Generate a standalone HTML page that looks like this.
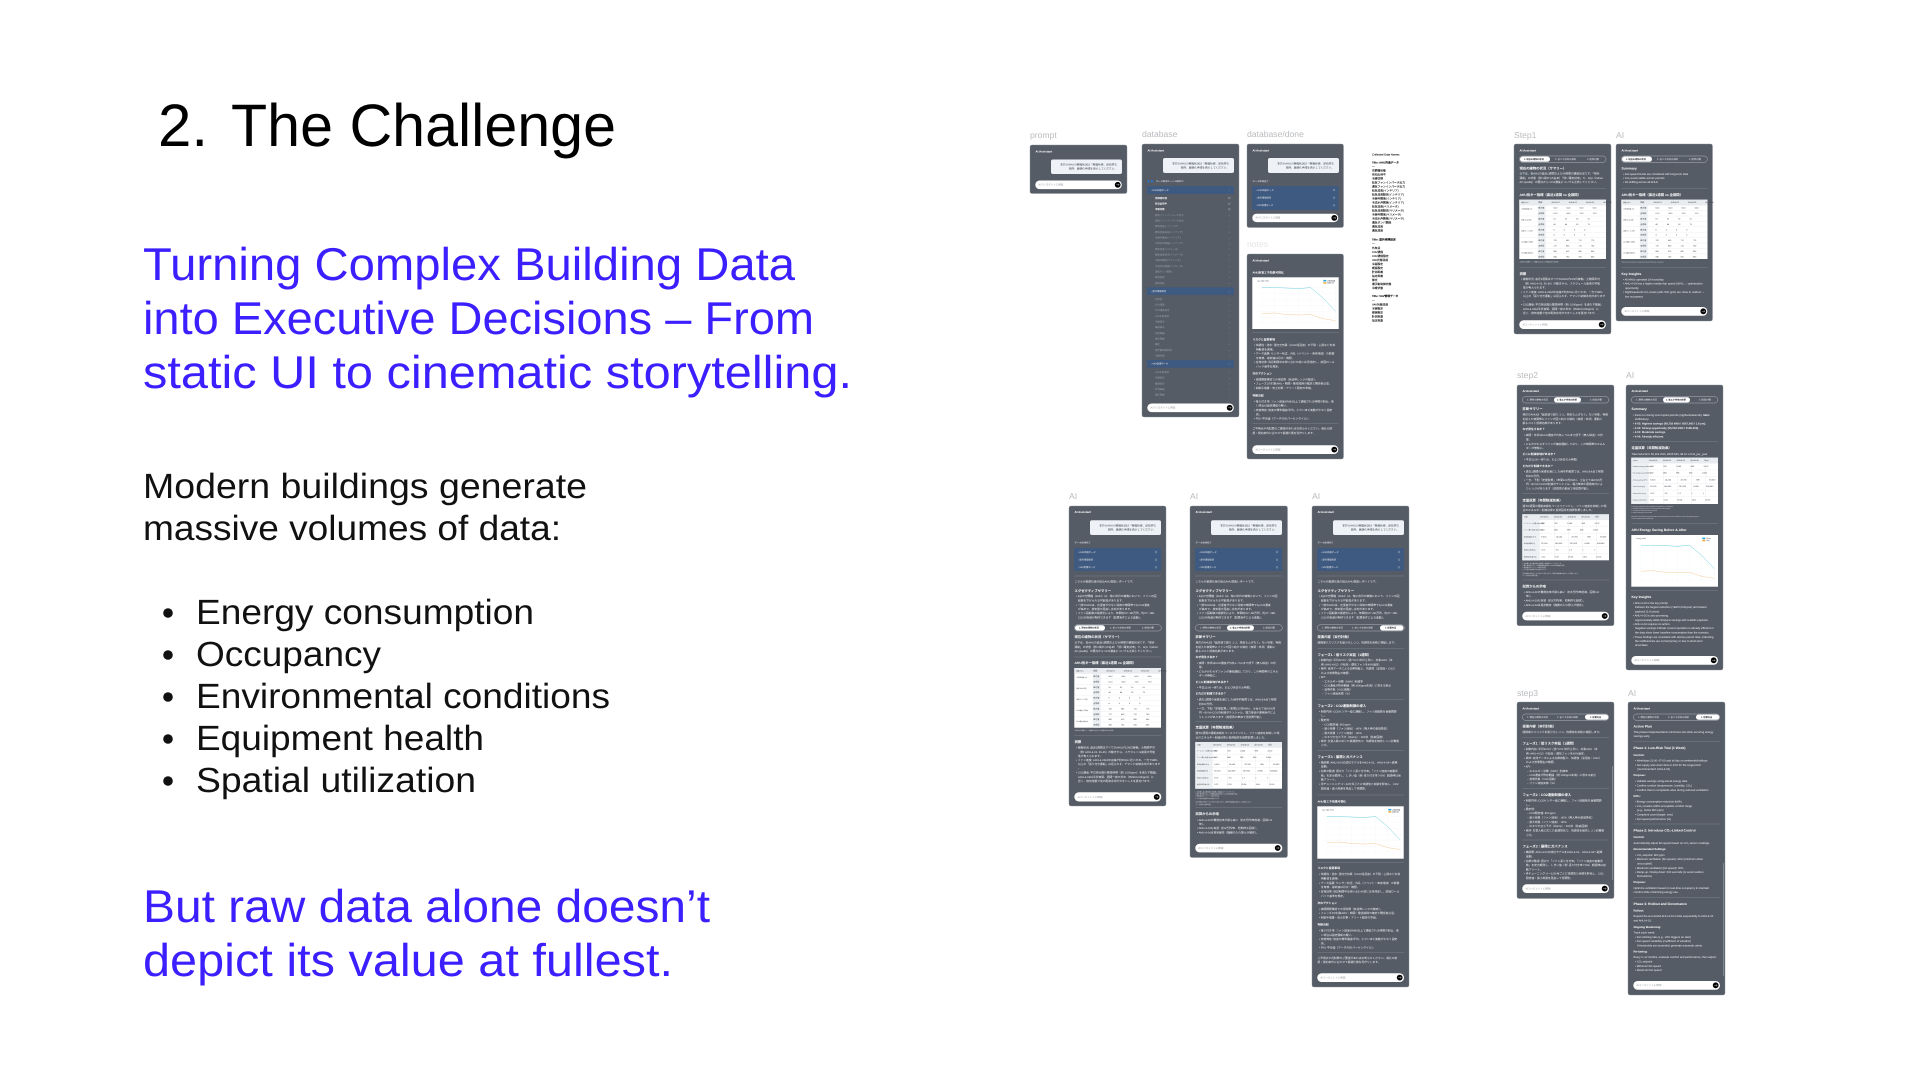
<!DOCTYPE html>
<html lang="en"><head><meta charset="utf-8"><title>2. The Challenge</title>
<style>
html,body{margin:0;padding:0;background:#fff;width:1920px;height:1080px;overflow:hidden}
svg{display:block}
text{font-family:"Liberation Sans","Noto Sans CJK JP",sans-serif;text-rendering:geometricPrecision}
.H{font-size:60px;fill:#000}.S{font-size:46px;fill:#3c1fff}.B{font-size:35px;fill:#111}
.L{font-size:8.6px;fill:#b8bbbf}
.p text{font-size:2.75px;fill:#eceef1}
.p .h{font-size:2.9px;font-weight:700;fill:#fff}
.p .b{font-size:2.8px;font-weight:700;fill:#fff}
.p .T{font-size:3.35px;font-weight:700;fill:#fff}
.p .d{fill:#3f4650;text-anchor:end;font-size:2.7px}
.p .g{fill:#8a8e95;font-size:2.5px}
.p .m{fill:#9aa0a8;font-size:2.4px}
.p .w{fill:#f2f3f5;font-size:2.4px;font-weight:700}
.p .s{font-size:1.5px;fill:#d8dbe0}
.p .a{font-size:2.3px;fill:#e6e8ec}
.p .k{font-size:2.2px;fill:#1f242c;font-weight:700}
.p .t{font-size:2px;fill:#3a3f47;word-spacing:8.6px}
.p .c{font-size:1.6px;fill:#3f444c}
.c1 text{font-size:2.75px;fill:#000;stroke:#000;stroke-width:.06px}
.c1 .bb{font-weight:700;fill:#000}
</style></head><body>
<svg width="1920" height="1080" viewBox="0 0 1920 1080" xmlns="http://www.w3.org/2000/svg">
<rect width="1920" height="1080" fill="#fff"/>
<text class="H" x="158" y="146">2.</text>
<text class="H" x="231" y="146" textLength="385" lengthAdjust="spacingAndGlyphs">The Challenge</text>
<text class="S" x="143" y="280" textLength="652" lengthAdjust="spacingAndGlyphs">Turning Complex Building Data</text>
<text class="S" x="143" y="334" textLength="671" lengthAdjust="spacingAndGlyphs">into Executive Decisions – From</text>
<text class="S" x="143" y="388" textLength="709" lengthAdjust="spacingAndGlyphs">static UI to cinematic storytelling.</text>
<text class="B" x="143" y="498" textLength="444" lengthAdjust="spacingAndGlyphs">Modern buildings generate</text>
<text class="B" x="143" y="540" textLength="418" lengthAdjust="spacingAndGlyphs">massive volumes of data:</text>
<g fill="#111"><circle cx="168" cy="613" r="4.8"/><circle cx="168" cy="655" r="4.8"/><circle cx="168" cy="697" r="4.8"/><circle cx="168" cy="739" r="4.8"/><circle cx="168" cy="781" r="4.8"/></g>
<text class="B" x="196" y="624" textLength="338" lengthAdjust="spacingAndGlyphs">Energy consumption</text>
<text class="B" x="196" y="666" textLength="185" lengthAdjust="spacingAndGlyphs">Occupancy</text>
<text class="B" x="196" y="708" textLength="414" lengthAdjust="spacingAndGlyphs">Environmental conditions</text>
<text class="B" x="196" y="750" textLength="288" lengthAdjust="spacingAndGlyphs">Equipment health</text>
<text class="B" x="196" y="792" textLength="280" lengthAdjust="spacingAndGlyphs">Spatial utilization</text>
<text class="S" x="143" y="922" textLength="567" lengthAdjust="spacingAndGlyphs">But raw data alone doesn’t</text>
<text class="S" x="143" y="976" textLength="530" lengthAdjust="spacingAndGlyphs">depict its value at fullest.</text>

<text class="L" x="1030" y="138">prompt</text><text class="L" x="1142" y="137">database</text><text class="L" x="1247" y="137">database/done</text><text class="L" x="1247" y="247" style="fill:#e4e5e7">notes</text>
<text class="L" x="1514" y="138">Step1</text><text class="L" x="1616" y="138">AI</text><text class="L" x="1069" y="499">AI</text><text class="L" x="1190" y="499">AI</text><text class="L" x="1312" y="499">AI</text><text class="L" x="1517" y="378">step2</text><text class="L" x="1626" y="378">AI</text><text class="L" x="1517" y="696">step3</text><text class="L" x="1628" y="696">AI</text>

<!-- prompt -->
<g class="p" transform="translate(1030,145)"><rect width="97" height="48.5" rx="2" fill="#565c66" stroke="#8a8f97" stroke-width=".4"/>
<text class="h" x="5.5" y="7.5">AI Assistant</text>
<rect x="21" y="14.5" width="71" height="14.5" rx="2" fill="#eef1f5"/><text class="d" x="87" y="20.5">本日のAHUの稼働状況は「稼働状態、逆効率な</text><text class="d" x="87" y="24.5">箇所、最適化手順を表示してください。</text>
<rect x="5.3" y="35.5" width="86.5" height="8.6" rx="4.3" fill="#fff"/><text class="g" x="8.5" y="40.7">AIアシスタントに相談</text><circle cx="87.7" cy="39.8" r="2.9" fill="#000"/><path d="M86.2 39.8h3M88.2 38.8l1 1-1 1" stroke="#fff" stroke-width=".35" fill="none"/></g>

<!-- database -->
<g class="p" transform="translate(1142,144)"><rect width="97" height="273" rx="2" fill="#565c66" stroke="#8a8f97" stroke-width=".4"/>
<text class="h" x="5.5" y="7.5">AI Assistant</text>
<rect x="21" y="14" width="71" height="15" rx="2" fill="#eef1f5"/><text class="d" x="87" y="20.5">本日のAHUの稼働状況は「稼働状態、逆効率な</text><text class="d" x="87" y="24.5">箇所、最適化手順を表示してください。</text>
<circle cx="6.5" cy="37.3" r="1" fill="#1e7cf0"/><circle cx="10" cy="37.3" r="1" fill="#1e7cf0"/><text class="a" x="14" y="38">データ取得ルートの解析中</text>
<rect x="5" y="42" width="87" height="8" fill="#3f5a80"/><rect x="5" y="143.3" width="87" height="7.7" fill="#3f5a80"/><rect x="5" y="216" width="87" height="7.7" fill="#3f5a80"/>
<text class="a" x="9" y="46.8">›  AHU共通データ</text><text class="a" x="9" y="148">›  屋外環境設定</text><text class="a" x="9" y="220.7">›  VAV管理データ</text>
<text class="w" x="13" y="54.8">空調機状態</text><text class="w" x="13" y="60.5">有効出荷中</text><text class="w" x="13" y="66.2">冷暖切替</text>
<g class="z"><text class="m" x="13" y="71.8">給気ファンインバータ出力</text><text class="m" x="13" y="77.5">還気ファンインバータ出力</text><text class="m" x="13" y="83.2">給気温度(インテリア)</text><text class="m" x="13" y="88.8">給気温度設定(インテリア)</text><text class="m" x="13" y="94.5">冷房弁開度(インテリア)</text><text class="m" x="13" y="100.2">冷温水弁開度(インテリア)</text><text class="m" x="13" y="105.8">給気温度(ペリメータ)</text><text class="m" x="13" y="111.5">給気温度設定(ペリメータ)</text><text class="m" x="13" y="117.2">冷房弁開度(ペリメータ)</text><text class="m" x="13" y="122.8">冷温水弁開度(ペリメータ)</text><text class="m" x="13" y="128.5">還気ダンパ開度</text><text class="m" x="13" y="134.2">還気温度</text><text class="m" x="13" y="139.8">還気湿度</text>
<text class="m" x="13" y="155.8">外気温</text><text class="m" x="13" y="161.5">CO2濃度</text><text class="m" x="13" y="167.2">CO2濃度設定</text><text class="m" x="13" y="172.8">VAV状態温度</text><text class="m" x="13" y="178.5">冷房設定</text><text class="m" x="13" y="184.2">暖房設定</text><text class="m" x="13" y="189.8">全熱風量</text><text class="m" x="13" y="195.5">指定風量</text><text class="m" x="13" y="201.2">静圧</text><text class="m" x="13" y="206.8">還手動制御状態</text><text class="m" x="13" y="212.5">冷暖状態</text>
<text class="m" x="13" y="229">VAV状態温度</text><text class="m" x="13" y="234.7">冷房設定</text><text class="m" x="13" y="240.3">暖房設定</text><text class="m" x="13" y="246">計測風量</text><text class="m" x="13" y="251.7">指定風量</text></g>
<g fill="none" stroke="#c9ced5" stroke-width=".3"><circle cx="87.3" cy="54" r=".9"/><circle cx="87.3" cy="59.7" r=".9"/><circle cx="87.3" cy="65.3" r=".9"/></g>
<path d="M86.5 46l.8.8.8-.8M86.5 71l.8.8.8-.8M86.5 76.7l.8.8.8-.8M86.5 82.4l.8.8.8-.8M86.5 88l.8.8.8-.8M86.5 93.7l.8.8.8-.8M86.5 99.4l.8.8.8-.8M86.5 105l.8.8.8-.8M86.5 110.7l.8.8.8-.8M86.5 116.4l.8.8.8-.8M86.5 122l.8.8.8-.8M86.5 127.7l.8.8.8-.8M86.5 133.4l.8.8.8-.8M86.5 139l.8.8.8-.8M86.5 147l.8.8.8-.8M86.5 155l.8.8.8-.8M86.5 160.7l.8.8.8-.8M86.5 166.4l.8.8.8-.8M86.5 172l.8.8.8-.8M86.5 177.7l.8.8.8-.8M86.5 183.4l.8.8.8-.8M86.5 189l.8.8.8-.8M86.5 194.7l.8.8.8-.8M86.5 200.4l.8.8.8-.8M86.5 206l.8.8.8-.8M86.5 211.7l.8.8.8-.8M86.5 219.7l.8.8.8-.8M86.5 228l.8.8.8-.8M86.5 233.7l.8.8.8-.8M86.5 239.4l.8.8.8-.8M86.5 245l.8.8.8-.8M86.5 250.7l.8.8.8-.8" fill="none" stroke="#8a909a" stroke-width=".3"/>
<rect x="5.3" y="259.5" width="86.5" height="8.6" rx="4.3" fill="#fff"/><text class="g" x="8.5" y="264.7">AIアシスタントに相談</text><circle cx="87.7" cy="263.8" r="2.9" fill="#000"/><path d="M86.2 263.8h3M88.2 262.8l1 1-1 1" stroke="#fff" stroke-width=".35" fill="none"/></g>

<!-- database/done -->
<g class="p" transform="translate(1247,144)"><rect width="96.5" height="83.5" rx="2" fill="#565c66" stroke="#8a8f97" stroke-width=".4"/>
<text class="h" x="5.5" y="7.5">AI Assistant</text>
<rect x="21" y="14" width="71" height="15" rx="2" fill="#eef1f5"/><text class="d" x="87" y="20.5">本日のAHUの稼働状況は「稼働状態、逆効率な</text><text class="d" x="87" y="24.5">箇所、最適化手順を表示してください。</text>
<text class="a" x="5.5" y="38">データ取得完了</text>
<rect x="5" y="42" width="86.7" height="24" fill="#3f5a80"/><text class="a" x="9" y="46.8">›  AHU共通データ</text><text class="a" x="9" y="54.5">›  屋外環境設定</text><text class="a" x="9" y="62.1">›  VAV管理データ</text>
<g fill="none" stroke="#c9ced5" stroke-width=".3"><circle cx="87" cy="46" r=".9"/><circle cx="87" cy="53.7" r=".9"/><circle cx="87" cy="61.3" r=".9"/></g>
<rect x="5.3" y="69.7" width="86" height="8.4" rx="4.2" fill="#fff"/><text class="g" x="8.5" y="74.7">AIアシスタントに相談</text><circle cx="87.3" cy="73.9" r="2.9" fill="#000"/><path d="M85.8 73.9h3M87.8 72.9l1 1-1 1" stroke="#fff" stroke-width=".35" fill="none"/></g>

<!-- notes -->
<g class="p" transform="translate(1247,254)"><rect width="96.5" height="205" rx="2" fill="#565c66" stroke="#8a8f97" stroke-width=".4"/>
<text class="h" x="5.5" y="7.5">AI Assistant</text>
<text class="b" x="5.5" y="19.3">AHU別省エネ効果可視化</text>
<g transform="translate(5.3,23.3)"><rect width="86.4" height="51.7" fill="#fff"/><path d="M9.7 8V46M22 8V46M34 8V46M46.3 8V46M58.3 8V46M70.3 8V46M83 8V46M6 10.3H85M6 16H85M6 22H85M6 28H85M6 34H85M6 40H85M6 45H85" stroke="#eceef1" stroke-width=".2"/><polyline points="9.7,10.3 22,10.3 34,10.7 46.3,11.3 58.3,10.3 70.3,20.3 83,33.7" fill="none" stroke="#6fd0df" stroke-width=".5"/><polyline points="9.7,36.3 22,35.7 34,37.3 46.3,37.7 58.3,37.3 70.3,41.3 83,43.3" fill="none" stroke="#f5cd9a" stroke-width=".5"/><rect x="71" y="2.6" width="3" height="1.6" fill="#2ba8e0"/><rect x="71" y="4.8" width="3" height="1.6" fill="#f3b040"/><text class="c" x="5" y="4">省エネ量（kWh）</text><text class="c" x="75" y="4">実績消費量</text><text class="c" x="75" y="6.2">最適化後</text></g>
<path d="M5.3 78.7H91.7M5.3 169.7H91.7" stroke="#858b94" stroke-width=".4"/>
<text class="b" x="5.5" y="86.6">リスクと留意事項</text>
<text x="7" y="92">• 快適性・送水: 室内空気質（CO2/温湿度）の下限・上限などを常</text><text x="9" y="96.3">時監視を適用。</text><text x="7" y="100.7">• データ品質: センサー校正、外乱（イベント・来客増加）の影響</text><text x="9" y="105">を考慮。最新値は月次・確認。</text><text x="7" y="109">• 省増効果: 周辺期間中は想い合わせ前には再測定し、前回ロール</text><text x="9" y="113.3">バック基準を規定。</text>
<text class="b" x="5.5" y="120.6">次のアクション</text>
<text x="7" y="126.3">• 夜間調節事前での再試算（気温帯レンジの確定）。</text><text x="7" y="130.7">• フェーズ1の対象AHU・期間・監視項目の確定と関係者合意。</text><text x="7" y="135">• 制御手順書・安全対策・アラート設定の準備。</text>
<text class="b" x="5.5" y="142.6">判断注記</text>
<text x="7" y="148.3">• 推り付き率: ファン速度がMIN以上で運転される時間の割合。高</text><text x="9" y="152.7">い場合は固定運転の疑い。</text><text x="7" y="157">• 定格時差: 速度の標準偏差/平均。小さいほど変動が少なく固定</text><text x="9" y="161.3">的。</text><text x="7" y="165.3">• P50: 中央値（データの50パーセンタイル）。</text>
<text x="5.5" y="175.7">ご不明点や再試算のご要望があればお知らせください。貴社の前</text><text x="5.5" y="180">提・契約条件に合わせて最適化案を再作りします。</text>
<rect x="5.3" y="191.3" width="86" height="8.7" rx="4.3" fill="#fff"/><text class="g" x="8.5" y="196.5">AIエージェントに相談</text><circle cx="87.3" cy="195.6" r="2.9" fill="#000"/><path d="M85.8 195.6h3M87.8 194.6l1 1-1 1" stroke="#fff" stroke-width=".35" fill="none"/></g>

<!-- Collected data names -->
<g class="c1" transform="translate(1372,0)">
<text x="0" y="155.5">Collected Data Names</text>
<text class="bb" x="0" y="163.5">Title: AHU共通データ</text><text x="0" y="167.5">—</text>
<text x="0" y="171.5">空調機状態</text><text x="0" y="175.5">有効出荷中</text><text x="0" y="179.5">冷暖切替</text><text x="0" y="183.5">給気ファンインバータ出力</text><text x="0" y="187.5">還気ファンインバータ出力</text><text x="0" y="191.5">給気温度(インテリア)</text><text x="0" y="195.5">給気温度設定(インテリア)</text><text x="0" y="199.5">冷房弁開度(インテリア)</text><text x="0" y="203.5">冷温水弁開度(インテリア)</text><text x="0" y="207.5">給気温度(ペリメータ)</text><text x="0" y="211.5">給気温度設定(ペリメータ)</text><text x="0" y="215.5">冷房弁開度(ペリメータ)</text><text x="0" y="219.5">冷温水弁開度(ペリメータ)</text><text x="0" y="223.5">還気ダンパ開度</text><text x="0" y="227.5">還気温度</text><text x="0" y="231.5">還気湿度</text>
<text class="bb" x="0" y="240.5">Title: 屋外環境設定</text><text x="0" y="244.5">—</text>
<text x="0" y="248.8">外気温</text><text x="0" y="252.8">CO2濃度</text><text x="0" y="256.8">CO2濃度設定</text><text x="0" y="260.8">VAV状態温度</text><text x="0" y="264.8">冷房設定</text><text x="0" y="268.8">暖房設定</text><text x="0" y="272.8">計測風量</text><text x="0" y="276.8">指定風量</text><text x="0" y="280.8">静圧</text><text x="0" y="284.8">還手動制御状態</text><text x="0" y="288.8">冷暖状態</text>
<text class="bb" x="0" y="297">Title: VAV管理データ</text><text x="0" y="301">—</text>
<text x="0" y="305.5">VAV状態温度</text><text x="0" y="309.5">冷房設定</text><text x="0" y="313.5">暖房設定</text><text x="0" y="317.5">計測風量</text><text x="0" y="321.5">指定風量</text>
</g>

<!-- Step1 -->
<g class="p" transform="translate(1514,144)"><rect width="97" height="190" rx="2" fill="#565c66" stroke="#8a8f97" stroke-width=".4"/>
<text class="h" x="5.5" y="7.5">AI Assistant</text>
<rect x="5.3" y="12" width="86.7" height="6.3" rx="3.1" fill="none" stroke="#c8ccd2" stroke-width=".4"/><rect x="6" y="12.5" width="30" height="5.3" rx="2.6" fill="#fff"/><text class="k" x="10" y="15.9">1. 現在の建物の状況</text><text class="a" x="41" y="15.9">2. 省エネ余地の診断</text><text class="a" x="73" y="15.9">3. 提案内容</text>
<text class="T" x="5.5" y="25.4">現在の建物の状況（サマリー）</text>
<text x="5.5" y="30.5">以下は、各AHUの直近1週間および全期間の運転状況です。「現状</text><text x="5.5" y="34.8">運転」の状態（例:1頃から5台あ）「低い電気効率」で、AQI（Indoor</text><text x="5.5" y="39.1">Air Quality）の要点から CO2濃度についても注目してください。</text>
<path d="M5.3 44.3H92M5.3 123.3H92" stroke="#858b94" stroke-width=".4"/>
<text class="T" x="5.5" y="51.8">AHU別キー指標（直近1週間 vs 全期間）</text>
<g transform="translate(5.3,55.7)"><rect width="86.7" height="59.3" fill="#fff"/><rect width="86.7" height="5.5" fill="#e8ebef"/><rect x="18.5" y="5.5" width="8" height="53.8" fill="#eef1f4"/><path d="M0 5.5H86.7M18.5 10.9H86.7M0 16.3H86.7M18.5 21.7H86.7M0 27.1H86.7M18.5 32.5H86.7M0 37.9H86.7M18.5 43.3H86.7M0 48.7H86.7M18.5 54.1H86.7" stroke="#dcdfe3" stroke-width=".25"/><text class="c" x="2" y="3.4">機器 AHU</text><text class="t" x="19" y="3.4">期間 AHU4-01 AHU4-02 AHU4-03 AHU4-04</text><text class="c" x="2" y="10">平均回転数 (%)</text><text class="c" x="2" y="21">吸気 CO2平均</text><text class="c" x="2" y="32">吸気ファン平均</text><text class="c" x="2" y="43">CO2濃度 平均値</text><text class="c" x="2" y="54">CO2濃度 最大値</text><text class="t" x="19" y="9">直近値 64.0 64.0 64.0 64.0</text><text class="t" x="19" y="14.4">全期間 61.0 64.0 74.0 70.0</text><text class="t" x="19" y="19.8">直近値 51 51 51 51</text><text class="t" x="19" y="25.2">全期間 40 44 62 75</text><text class="t" x="19" y="30.6">直近値 6 6 6 6</text><text class="t" x="19" y="36">全期間 4 5 5 5</text><text class="t" x="19" y="41.4">直近値 752 650 712 775</text><text class="t" x="19" y="46.8">全期間 737 660 712 790</text><text class="t" x="19" y="52.2">直近値 880 810 880 850</text><text class="t" x="19" y="57.6">全期間 840 780 910 860</text></g>
<text class="s" x="5.5" y="118.5">※直近の1週間 ファン速度の固定および運転の区分を確認</text>
<text class="T" x="5.5" y="130.8">洞察</text>
<text x="7" y="136.2">• 稼働状況: 直近1週間はすべてのAHUが22h/日稼働。全期間平均</text><text x="9" y="140.3">（例: AHU-4-01, 66.4h）の動きから、スケジュール変更の可能</text><text x="9" y="144.5">性が考えられます。</text><text x="7" y="149.2">• ファン速度: AHU-4-03は中央値が約50%に近いため、一方で98%</text><text x="9" y="153.2">以上の「張り付き運転」は見られず、デマンド制御余地があります</text><text x="9" y="157.5">。</text><text x="7" y="161.5">• CO2濃度: 平日夜は概ね管理目標（例: 1000ppm）を満たす範囲。</text><text x="9" y="165.8">AHU-4-03は平日夜間、週間一部の日中（PM400-600ppm）に</text><text x="9" y="170.2">近く、換気増量や他の配流余地が大きいことを裏付けます。</text>
<rect x="5.3" y="176.3" width="86.5" height="8.7" rx="4.3" fill="#fff"/><text class="g" x="8.5" y="181.5">AIエージェントに相談</text><circle cx="87.7" cy="180.6" r="2.9" fill="#000"/><path d="M86.2 180.6h3M88.2 179.6l1 1-1 1" stroke="#fff" stroke-width=".35" fill="none"/></g>

<!-- AI top right -->
<g class="p" transform="translate(1616,144)"><rect width="96.5" height="177" rx="2" fill="#565c66" stroke="#8a8f97" stroke-width=".4"/>
<text class="h" x="5.5" y="7.5">AI Assistant</text>
<rect x="5.3" y="12" width="86" height="6.3" rx="3.1" fill="none" stroke="#c8ccd2" stroke-width=".4"/><rect x="6" y="12.5" width="30" height="5.3" rx="2.6" fill="#fff"/><text class="k" x="10" y="15.9">1. 現在の建物の状況</text><text class="a" x="41" y="15.9">2. 省エネ余地の診断</text><text class="a" x="73" y="15.9">3. 提案内容</text>
<text class="T" x="5.5" y="25.4">Summary</text>
<text x="7" y="31">• Fan speed trends are consistent with long-term data</text><text x="7" y="35">• CO₂ levels stable across periods</text><text x="7" y="39.2">• No shifting across all AHUs</text>
<path d="M5.3 44.3H91.5M5.3 123.3H91.5" stroke="#858b94" stroke-width=".4"/>
<text class="T" x="5.5" y="51.8">AHU別キー指標（直近1週間 vs 全期間）</text>
<g transform="translate(5.3,55.7)"><rect width="86.2" height="59.3" fill="#fff"/><rect width="86.2" height="5.5" fill="#e8ebef"/><rect x="18.5" y="5.5" width="8" height="53.8" fill="#eef1f4"/><path d="M0 5.5H86.2M18.5 10.9H86.2M0 16.3H86.2M18.5 21.7H86.2M0 27.1H86.2M18.5 32.5H86.2M0 37.9H86.2M18.5 43.3H86.2M0 48.7H86.2M18.5 54.1H86.2" stroke="#dcdfe3" stroke-width=".25"/><text class="c" x="2" y="3.4">機器 AHU</text><text class="t" x="19" y="3.4">期間 AHU4-01 AHU4-02 AHU4-03 AHU4-04</text><text class="c" x="2" y="10">平均回転数 (%)</text><text class="c" x="2" y="21">吸気 CO2平均</text><text class="c" x="2" y="32">吸気ファン平均</text><text class="c" x="2" y="43">CO2濃度 平均値</text><text class="c" x="2" y="54">CO2濃度 最大値</text><text class="t" x="19" y="9">直近値 64.0 64.0 64.0 64.0</text><text class="t" x="19" y="14.4">全期間 61.0 64.0 74.0 70.0</text><text class="t" x="19" y="19.8">直近値 51 51 51 51</text><text class="t" x="19" y="25.2">全期間 40 44 62 75</text><text class="t" x="19" y="30.6">直近値 6 6 6 6</text><text class="t" x="19" y="36">全期間 4 5 5 5</text><text class="t" x="19" y="41.4">直近値 752 650 712 775</text><text class="t" x="19" y="46.8">全期間 737 660 712 790</text><text class="t" x="19" y="52.2">直近値 880 810 880 850</text><text class="t" x="19" y="57.6">全期間 840 780 910 860</text></g>
<text class="s" x="5.5" y="118.5">※Over the last week, fan speed and period data are compared</text>
<text class="T" x="5.5" y="130.8">Key Insights</text>
<text x="7" y="136.5">• All AHUs operated 24 hours/day</text><text x="7" y="140.6">• AHU-4-03 has a higher median fan speed (49%) → optimization</text><text x="9" y="144.8">opportunity</text><text x="7" y="149">• Night/weekend CO₂ levels (400–500 ppm) are close to outdoor →</text><text x="9" y="153.4">low occupancy</text>
<rect x="5.3" y="163" width="86" height="8.7" rx="4.3" fill="#fff"/><text class="g" x="8.5" y="168.2">AIエージェントに相談</text><circle cx="87.3" cy="167.3" r="2.9" fill="#000"/><path d="M85.8 167.3h3M87.8 166.3l1 1-1 1" stroke="#fff" stroke-width=".35" fill="none"/></g>

<!-- AI row col 1 -->
<g class="p" transform="translate(1069,506)"><rect width="97" height="300" rx="2" fill="#565c66" stroke="#8a8f97" stroke-width=".4"/>
<text class="h" x="5.5" y="7.2">AI Assistant</text>
<rect x="21" y="14.3" width="71" height="14.7" rx="2" fill="#eef1f5"/><text class="d" x="87" y="20.5">本日のAHUの稼働状況は「稼働状態、逆効率な</text><text class="d" x="87" y="24.5">箇所、最適化手順を表示してください。</text>
<text class="a" x="5.5" y="37.7">データ取得完了</text>
<rect x="5" y="42" width="87" height="23" fill="#3f5a80"/><text class="a" x="9" y="46.8">›  AHU共通データ</text><text class="a" x="9" y="54.5">›  屋外環境設定</text><text class="a" x="9" y="62.1">›  VAV管理データ</text>
<g fill="none" stroke="#c9ced5" stroke-width=".3"><circle cx="87" cy="46" r=".9"/><circle cx="87" cy="53.7" r=".9"/><circle cx="87" cy="61.3" r=".9"/></g>
<path d="M5.3 70H92M5.3 151H92M5.3 229.7H92" stroke="#858b94" stroke-width=".4"/>
<text x="5.5" y="76.5">こちらが最適化後の総合AHU性能レポートです。</text>
<text class="T" x="5.5" y="85.8">エグゼクティブサマリー</text>
<text x="7" y="91.1">• 4台の空調機（AHU）は、特に休日の稼働において、ファンの回</text><text x="9" y="95.5">転数を下げられる可能性があります。</text><text x="7" y="99.8">• 一部のAHUは、在室者が少ない深夜の時間帯でもCO2濃度</text><text x="9" y="103.9">が高めで、換気量の見直し余地があります。</text><text x="7" y="108.1">• ファン回転数の最適化により、年間約60〜80万円、約37〜38t-</text><text x="9" y="112.5">CO2の削減が期待できます（試算条件による変動）。</text>
<rect x="5.3" y="118.7" width="87" height="6.3" rx="3.1" fill="none" stroke="#c8ccd2" stroke-width=".4"/><rect x="6" y="119.2" width="30" height="5.3" rx="2.6" fill="#fff"/><text class="k" x="10" y="122.6">1. 現在の建物の状況</text><text class="a" x="41" y="122.6">2. 省エネ余地の診断</text><text class="a" x="73" y="122.6">3. 提案内容</text>
<text class="T" x="5.5" y="132">現在の建物の状況（サマリー）</text>
<text x="5.5" y="137.5">以下は、各AHUの直近1週間および全期間の運転状況です。「現状</text><text x="5.5" y="141.8">運転」の状態（例:1頃から5台あ）「低い電気効率」で、AQI（Indoor</text><text x="5.5" y="146.1">Air Quality）の要点から CO2濃度についても注目してください。</text>
<text class="T" x="5.5" y="158">AHU別キー指標（直近1週間 vs 全期間）</text>
<g transform="translate(5.3,162)"><rect width="86.7" height="59.7" fill="#fff"/><rect width="86.7" height="5.5" fill="#e8ebef"/><rect x="18.5" y="5.5" width="8" height="54.2" fill="#eef1f4"/><path d="M0 5.5H86.7M18.5 10.9H86.7M0 16.3H86.7M18.5 21.7H86.7M0 27.1H86.7M18.5 32.5H86.7M0 37.9H86.7M18.5 43.3H86.7M0 48.7H86.7M18.5 54.1H86.7" stroke="#dcdfe3" stroke-width=".25"/><text class="c" x="2" y="3.4">機器 AHU</text><text class="t" x="19" y="3.4">期間 AHU4-01 AHU4-02 AHU4-03 AHU4-04</text><text class="c" x="2" y="10">平均回転数 (%)</text><text class="c" x="2" y="21">吸気 CO2平均</text><text class="c" x="2" y="32">吸気ファン平均</text><text class="c" x="2" y="43">CO2濃度 平均値</text><text class="c" x="2" y="54">CO2濃度 最大値</text><text class="t" x="19" y="9">直近値 64.0 64.0 64.0 64.0</text><text class="t" x="19" y="14.4">全期間 61.0 64.0 74.0 70.0</text><text class="t" x="19" y="19.8">直近値 51 51 51 51</text><text class="t" x="19" y="25.2">全期間 40 44 62 75</text><text class="t" x="19" y="30.6">直近値 6 6 6 6</text><text class="t" x="19" y="36">全期間 4 5 5 5</text><text class="t" x="19" y="41.4">直近値 752 650 712 775</text><text class="t" x="19" y="46.8">全期間 737 660 712 790</text><text class="t" x="19" y="52.2">直近値 880 810 880 850</text><text class="t" x="19" y="57.6">全期間 840 780 910 860</text></g>
<text class="s" x="5.5" y="224.8">※直近の1週間 ファン速度の固定および運転の区分を確認</text>
<text class="T" x="5.5" y="236.8">洞察</text>
<text x="7" y="242.5">• 稼働状況: 直近1週間はすべてのAHUが22h/日稼働。全期間平均</text><text x="9" y="246.8">（例: AHU-4-01, 66.4h）の動きから、スケジュール変更の可能</text><text x="9" y="250.8">性が考えられます。</text><text x="7" y="254.8">• ファン速度: AHU-4-03は中央値が約50%に近いため、一方で98%</text><text x="9" y="259">以上の「張り付き運転」は見られず、デマンド制御余地があります</text><text x="9" y="263">。</text><text x="7" y="267.5">• CO2濃度: 平日夜は概ね管理目標（例: 1000ppm）を満たす範囲。</text><text x="9" y="271.8">AHU-4-03は平日夜間、週間一部の日中（PM400-600ppm）に</text><text x="9" y="276">近く、換気増量や他の配流余地が大きいことを裏付けます。</text>
<rect x="5.3" y="286.3" width="87" height="9.2" rx="4.6" fill="#fff"/><text class="g" x="8.5" y="291.8">AIエージェントに相談</text><circle cx="87.7" cy="290.9" r="2.9" fill="#000"/><path d="M86.2 290.9h3M88.2 289.9l1 1-1 1" stroke="#fff" stroke-width=".35" fill="none"/></g>

<!-- AI row col 2 -->
<g class="p" transform="translate(1190,506)"><rect width="97.5" height="351.5" rx="2" fill="#565c66" stroke="#8a8f97" stroke-width=".4"/>
<text class="h" x="5.5" y="7.2">AI Assistant</text>
<rect x="21" y="14.3" width="71" height="14.7" rx="2" fill="#eef1f5"/><text class="d" x="87" y="20.5">本日のAHUの稼働状況は「稼働状態、逆効率な</text><text class="d" x="87" y="24.5">箇所、最適化手順を表示してください。</text>
<text class="a" x="5.5" y="37.7">データ取得完了</text>
<rect x="5" y="42" width="87" height="23" fill="#3f5a80"/><text class="a" x="9" y="46.8">›  AHU共通データ</text><text class="a" x="9" y="54.5">›  屋外環境設定</text><text class="a" x="9" y="62.1">›  VAV管理データ</text>
<g fill="none" stroke="#c9ced5" stroke-width=".3"><circle cx="87" cy="46" r=".9"/><circle cx="87" cy="53.7" r=".9"/><circle cx="87" cy="61.3" r=".9"/></g>
<path d="M5.3 70H92M5.3 215.7H92M5.3 301.7H92" stroke="#858b94" stroke-width=".4"/>
<text x="5.5" y="76.5">こちらが最適化後の総合AHU性能レポートです。</text>
<text class="T" x="5.5" y="85.8">エグゼクティブサマリー</text>
<text x="7" y="91.1">• 4台の空調機（AHU）は、特に休日の稼働において、ファンの回</text><text x="9" y="95.5">転数を下げられる可能性があります。</text><text x="7" y="99.8">• 一部のAHUは、在室者が少ない深夜の時間帯でもCO2濃度</text><text x="9" y="103.9">が高めで、換気量の見直し余地があります。</text><text x="7" y="108.1">• ファン回転数の最適化により、年間約60〜80万円、約37〜38t-</text><text x="9" y="112.5">CO2の削減が期待できます（試算条件による変動）。</text>
<rect x="5.3" y="118.7" width="87" height="6.3" rx="3.1" fill="none" stroke="#c8ccd2" stroke-width=".4"/><rect x="37" y="119.2" width="27" height="5.3" rx="2.6" fill="#fff"/><text class="a" x="10" y="122.6">1. 現在の建物の状況</text><text class="k" x="40" y="122.6">2. 省エネ余地の診断</text><text class="a" x="73" y="122.6">3. 提案内容</text>
<text class="T" x="5.5" y="132">診断サマリー</text>
<text x="5.5" y="137.5">現在のAHUは「固定速で回りつつ、換気もムダなく」ない状態。特徴</text><text x="5.5" y="141.8">を捉えた夜間帯にファンが回り続ける傾向（夜間・休日）運転に</text><text x="5.5" y="146.1">最もコスト低減効果があります。</text>
<text class="b" x="5.5" y="152">なぜ発生するか？</text>
<text x="7" y="157.8">• 夜間・休日はCO2濃度が外気レベルまで低下（無人相当）の状</text><text x="9" y="162">態。</text><text x="7" y="166.5">• にもかかわらずファンが連続運転しており、この時間帯のエネル</text><text x="9" y="170.5">ギーが無駄に。</text>
<text class="b" x="5.5" y="177">どこに削減余地があるか？</text>
<text x="7" y="182.5">• 平日22:00〜翌7:00、および休日の全時間。</text>
<text class="b" x="5.5" y="188.7">どれだけ削減できるか？</text>
<text x="7" y="194.5">• 過去1週間の実績を基にした保守的推算では、AHU全4台で年間</text><text x="9" y="198.8">約500万円。</text><text x="7" y="203.5">• 一方、下記「定量試算」（年間120万kWh）、全台全てはKWh万</text><text x="9" y="207.5">円・80 M+CO2の削減ポテンシャル。電力単価や運用条件によ</text><text x="9" y="211.8">りレンジがあります（前提表の単価で再試算可能）。</text>
<text class="T" x="5.5" y="222.7">定量試算（年間削減効果）</text>
<text x="5.5" y="228.1">過去1週間の運転実績をベースラインとし、ファン速度を抑制した場</text><text x="5.5" y="232.5">合のエネルギー削減効果と投資回収を推算試算しました。</text>
<g transform="translate(5.3,236)"><rect width="86.7" height="46.7" fill="#fff"/><rect width="86.7" height="5.5" fill="#e8ebef"/><rect y="5.5" width="17" height="41.2" fill="#eef1f4"/><path d="M0 5.5H86.7M0 12.2H86.7M0 18.9H86.7M0 25.6H86.7M0 32.3H86.7M0 39H86.7M17 0V46.7M32 0V46.7M46 0V46.7M60 0V46.7M74 0V46.7" stroke="#dcdfe3" stroke-width=".25"/><text class="c" x="2" y="3.4">指標</text><text class="t" x="18" y="3.4" style="word-spacing:5px">AHU4-01 AHU4-02 AHU4-03 AHU4-04 合計</text><text class="c" x="1.5" y="9.5">ベースライン消費 (MWh/年)</text><text class="c" x="1.5" y="16">ファン電力 削減 (MWh/年)</text><text class="c" x="1.5" y="23">年間削減額 (JPY)</text><text class="c" x="1.5" y="29.5">年間削減額 (円)</text><text class="c" x="1.5" y="36.3">年間CO2削減 (t)</text><text class="c" x="1.5" y="43">投資回収年数 (年)</text><text class="t" x="19" y="9.5" style="word-spacing:9px">888 750 1,660 890 3,187</text><text class="t" x="19" y="16" style="word-spacing:9px">582 494 996 586 1,656</text><text class="t" x="19" y="23" style="word-spacing:9px">9,316 14,245 28,760 889 38,530</text><text class="t" x="19" y="29.5" style="word-spacing:7px">92,160 148,300 287,600 8,890 638,540</text><text class="t" x="19" y="36.3" style="word-spacing:10px">19.0 8.5 1.2 1 1</text><text class="t" x="19" y="43" style="word-spacing:9px">0.22 0.28 29.24 18.4 28.16</text></g>
<text class="s" x="5.5" y="286.5">1.消費電力量は実測値を年換算  2.削減率はベースライン比</text><text class="s" x="5.5" y="288.6">3.電力単価を仮定して年間削減額を算出  4.CO2排出係数を使用</text><text class="s" x="5.5" y="290.7">5.投資費用はインバータ改修を想定</text><text class="s" x="5.5" y="292.8">6.その他の前提条件は別紙のとおり</text><text class="s" x="5.5" y="296.6">表の試算は過去データに基づく推定であり、実際の削減額は条件により異なります。</text><text class="s" x="5.5" y="298.9">データ追加で更新可能。</text>
<text class="T" x="5.5" y="309">試算からの示唆</text>
<text x="7" y="314.8">• AHU-4-02の費用効率が最も高い（約5万円/年削減、回収1.8</text><text x="9" y="318.8">年）。</text><text x="7" y="323.1">• AHU-4-03も有望（約3万円/年、短期的な回収）。</text><text x="7" y="327.5">• AHU-4-04は現状維持（機器の入れ替えが優先）。</text>
<rect x="5.3" y="337.7" width="87" height="8.7" rx="4.3" fill="#fff"/><text class="g" x="8.5" y="342.9">AIエージェントに相談</text><circle cx="87.7" cy="342" r="2.9" fill="#000"/><path d="M86.2 342h3M88.2 341l1 1-1 1" stroke="#fff" stroke-width=".35" fill="none"/></g>

<!-- AI row col 3 -->
<g class="p" transform="translate(1312,506)"><rect width="97" height="481" rx="2" fill="#565c66" stroke="#8a8f97" stroke-width=".4"/>
<text class="h" x="5.5" y="7.2">AI Assistant</text>
<rect x="21" y="14.3" width="71" height="14.7" rx="2" fill="#eef1f5"/><text class="d" x="87" y="20.5">本日のAHUの稼働状況は「稼働状態、逆効率な</text><text class="d" x="87" y="24.5">箇所、最適化手順を表示してください。</text>
<text class="a" x="5.5" y="37.7">データ取得完了</text>
<rect x="5" y="42" width="87" height="23" fill="#3f5a80"/><text class="a" x="9" y="46.8">›  AHU共通データ</text><text class="a" x="9" y="54.5">›  屋外環境設定</text><text class="a" x="9" y="62.1">›  VAV管理データ</text>
<g fill="none" stroke="#c9ced5" stroke-width=".3"><circle cx="87" cy="46" r=".9"/><circle cx="87" cy="53.7" r=".9"/><circle cx="87" cy="61.3" r=".9"/></g>
<path d="M5.3 70H92M5.3 142.3H92M5.3 193.7H92M5.3 244.7H92M5.3 289H92M5.3 356.3H92M5.3 446.7H92" stroke="#858b94" stroke-width=".4"/>
<text x="5.5" y="76.5">こちらが最適化後の総合AHU性能レポートです。</text>
<text class="T" x="5.5" y="85.8">エグゼクティブサマリー</text>
<text x="7" y="91.1">• 4台の空調機（AHU）は、特に休日の稼働において、ファンの回</text><text x="9" y="95.5">転数を下げられる可能性があります。</text><text x="7" y="99.8">• 一部のAHUは、在室者が少ない深夜の時間帯でもCO2濃度</text><text x="9" y="103.9">が高めで、換気量の見直し余地があります。</text><text x="7" y="108.1">• ファン回転数の最適化により、年間約60〜80万円、約37〜38t-</text><text x="9" y="112.5">CO2の削減が期待できます（試算条件による変動）。</text>
<rect x="5.3" y="118.7" width="87" height="6.3" rx="3.1" fill="none" stroke="#c8ccd2" stroke-width=".4"/><rect x="68" y="119.2" width="23.5" height="5.3" rx="2.6" fill="#fff"/><text class="a" x="10" y="122.6">1. 現在の建物の状況</text><text class="a" x="40" y="122.6">2. 省エネ余地の診断</text><text class="k" x="73" y="122.6">3. 提案内容</text>
<text class="T" x="5.5" y="132">提案内容（実行計画）</text>
<text x="5.5" y="137.5">段階導入でリスクを最小化しつつ、快適性を実務に検証します。</text>
<text class="T" x="5.5" y="149.8">フェーズ1：低リスク実証（1週間）</text>
<text x="7" y="155">• 制御内容: 平日22:00〜翌7:00＋休日全日に、対象AHU（本</text><text x="9" y="159.3">例: AHU-4-02）の給気・還気ファンを40%固定。</text><text x="7" y="163.7">• 目的: 実測データによる効果検証と、快適性（温湿度・CO2）</text><text x="9" y="168">および苦情発生の確認。</text><text x="7" y="172">• KPI:</text><text x="10" y="176.4">− エネルギー消費（kWh）削減率</text><text x="10" y="180.4">− CO2濃度が許容範囲（例: 800ppm未満）に収まる割合</text><text x="10" y="184.4">− 苦情件数（VOC回数）</text><text x="10" y="188.4">− ファン速度実績（%）</text>
<text class="T" x="5.5" y="200.8">フェーズ2：CO2連動制御の導入</text>
<text x="7" y="206.4">• 制御内容: CO2センサー値に連動し、ファン回転数を自動調節</text><text x="9" y="210.7">し。</text><text x="7" y="215">• 設定例:</text><text x="10" y="219.4">− CO2設定値: 800 ppm</text><text x="10" y="223.7">− 最小風量（ファン速度）: 40%（無人時の最低換気）</text><text x="10" y="228">− 最大風量（ファン速度）: 90%</text><text x="10" y="232">− ゆるやか立ち下げ（Ramp）: 300秒（急変回避）</text><text x="7" y="236">• 目的: 在室人数に応じた最適換気で、快適性を維持しつつ消費量</text><text x="9" y="240">小化。</text>
<text class="T" x="5.5" y="252.1">フェーズ3：展開とガバナンス</text>
<text x="7" y="257.4">• 横展開: AHU-4-03の成功モデルをAHU-4-01、AHU-4-04へ適用</text><text x="9" y="261.7">展開。</text><text x="7" y="266">• 効果の監視: 週次で「ファン張り付き率」「ファン速度の変動係</text><text x="9" y="270.4">数」を定点観測し、しきい値（例: 張り付き率＞5%）超過時は自</text><text x="9" y="274.7">動アラート。</text><text x="7" y="279">• 再チューニング: 6〜12か月ごとに快適性と実績を評価し、CO2</text><text x="9" y="283.4">設定値・最小風量を見直して再調整。</text>
<text class="b" x="5.5" y="296.4">AHU省エネ効果可視化</text>
<g transform="translate(5.3,300.3)"><rect width="86.4" height="52.4" fill="#fff"/><path d="M9.7 8V46M22 8V46M34 8V46M46.3 8V46M58.3 8V46M70.3 8V46M83 8V46M6 10.3H85M6 16H85M6 22H85M6 28H85M6 34H85M6 40H85M6 45H85" stroke="#eceef1" stroke-width=".2"/><polyline points="9.7,10.3 22,10.3 34,10.7 46.3,11.3 58.3,10.3 70.3,20.3 83,33.7" fill="none" stroke="#6fd0df" stroke-width=".5"/><polyline points="9.7,36.3 22,35.7 34,37.3 46.3,37.7 58.3,37.3 70.3,41.3 83,43.3" fill="none" stroke="#f5cd9a" stroke-width=".5"/><rect x="71" y="2.6" width="3" height="1.6" fill="#2ba8e0"/><rect x="71" y="4.8" width="3" height="1.6" fill="#f3b040"/><text class="c" x="5" y="4">省エネ量（kWh）</text><text class="c" x="75" y="4">実績消費量</text><text class="c" x="75" y="6.2">最適化後</text></g>
<text class="b" x="5.5" y="363.2">リスクと留意事項</text>
<text x="7" y="369.1">• 快適性・送水: 室内空気質（CO2/温湿度）の下限・上限などを常</text><text x="9" y="373.4">時監視を適用。</text><text x="7" y="377.8">• データ品質: センサー校正、外乱（イベント・来客増加）の影響</text><text x="9" y="382">を考慮。最新値は月次・確認。</text><text x="7" y="386.5">• 省増効果: 周辺期間中は想い合わせ前には再測定し、前回ロール</text><text x="9" y="390.8">バック基準を規定。</text>
<text class="b" x="5.5" y="397.9">次のアクション</text>
<text x="7" y="403.8">• 夜間調節事前での再試算（気温帯レンジの確定）。</text><text x="7" y="408.1">• フェーズ1の対象AHU・期間・監視項目の確定と関係者合意。</text><text x="7" y="412.5">• 制御手順書・安全対策・アラート設定の準備。</text>
<text class="b" x="5.5" y="419.6">判断注記</text>
<text x="7" y="425.5">• 推り付き率: ファン速度がMIN以上で運転される時間の割合。高</text><text x="9" y="429.8">い場合は固定運転の疑い。</text><text x="7" y="434.1">• 定格時差: 速度の標準偏差/平均。小さいほど変動が少なく固定</text><text x="9" y="438.5">的。</text><text x="7" y="442.5">• P50: 中央値（データの50パーセンタイル）。</text>
<text x="5.5" y="452.8">ご不明点や再試算のご要望があればお知らせください。貴社の前</text><text x="5.5" y="457.1">提・契約条件に合わせて最適化案を再作りします。</text>
<rect x="5.3" y="467.3" width="86.7" height="8.7" rx="4.3" fill="#fff"/><text class="g" x="8.5" y="472.5">AIエージェントに相談</text><circle cx="87.7" cy="471.6" r="2.9" fill="#000"/><path d="M86.2 471.6h3M88.2 470.6l1 1-1 1" stroke="#fff" stroke-width=".35" fill="none"/></g>

<!-- step2 -->
<g class="p" transform="translate(1517,385)"><rect width="97" height="240.7" rx="2" fill="#565c66" stroke="#8a8f97" stroke-width=".4"/>
<text class="h" x="5.5" y="7.2">AI Assistant</text>
<rect x="5.3" y="11.7" width="86.5" height="6.3" rx="3.1" fill="none" stroke="#c8ccd2" stroke-width=".4"/><rect x="37" y="12.2" width="27" height="5.3" rx="2.6" fill="#fff"/><text class="a" x="10" y="15.6">1. 現在の建物の状況</text><text class="k" x="40" y="15.6">2. 省エネ余地の診断</text><text class="a" x="73" y="15.6">3. 提案内容</text>
<text class="T" x="5.5" y="25.1">診断サマリー</text>
<text x="5.5" y="30.5">現在のAHUは「固定速で回りつつ、換気もムダなく」ない状態。特徴</text><text x="5.5" y="34.8">を捉えた夜間帯にファンが回り続ける傾向（夜間・休日）運転に</text><text x="5.5" y="39.1">最もコスト低減効果があります。</text>
<text class="b" x="5.5" y="45.2">なぜ発生するか？</text>
<text x="7" y="51.1">• 夜間・休日はCO2濃度が外気レベルまで低下（無人相当）の状</text><text x="9" y="55.5">態。</text><text x="7" y="59.8">• にもかかわらずファンが連続運転しており、この時間帯のエネル</text><text x="9" y="64">ギーが無駄に。</text>
<text class="b" x="5.5" y="69.9">どこに削減余地があるか？</text>
<text x="7" y="75.5">• 平日22:00〜翌7:00、および休日の全時間。</text>
<text class="b" x="5.5" y="81.9">どれだけ削減できるか？</text>
<text x="7" y="87.5">• 過去1週間の実績を基にした保守的推算では、AHU全4台で年間</text><text x="9" y="91.8">約500万円。</text><text x="7" y="96.1">• 一方、下記「定量試算」（年間120万kWh）、全台全てはKWh万</text><text x="9" y="100.1">円・80 M+CO2の削減ポテンシャル。電力単価や運用条件によ</text><text x="9" y="104.5">りレンジがあります（前提表の単価で再試算可能）。</text>
<path d="M5.3 108.7H92M5.3 195H92" stroke="#858b94" stroke-width=".4"/>
<text class="T" x="5.5" y="116.4">定量試算（年間削減効果）</text>
<text x="5.5" y="121.8">過去1週間の運転実績をベースラインとし、ファン速度を抑制した場</text><text x="5.5" y="126.1">合のエネルギー削減効果と投資回収を推算試算しました。</text>
<g transform="translate(5.3,129.3)"><rect width="86.7" height="46" fill="#fff"/><rect width="86.7" height="5.5" fill="#e8ebef"/><rect y="5.5" width="17" height="40.5" fill="#eef1f4"/><path d="M0 5.5H86.7M0 12.2H86.7M0 18.9H86.7M0 25.6H86.7M0 32.3H86.7M0 39H86.7M17 0V46M32 0V46M46 0V46M60 0V46M74 0V46" stroke="#dcdfe3" stroke-width=".25"/><text class="c" x="2" y="3.4">指標</text><text class="t" x="18" y="3.4" style="word-spacing:5px">AHU4-01 AHU4-02 AHU4-03 AHU4-04 合計</text><text class="c" x="1.5" y="9.5">ベースライン消費 (MWh/年)</text><text class="c" x="1.5" y="16">ファン電力 削減 (MWh/年)</text><text class="c" x="1.5" y="23">年間削減額 (JPY)</text><text class="c" x="1.5" y="29.5">年間削減額 (円)</text><text class="c" x="1.5" y="36.3">年間CO2削減 (t)</text><text class="c" x="1.5" y="43">投資回収年数 (年)</text><text class="t" x="19" y="9.5" style="word-spacing:9px">888 750 1,660 890 3,187</text><text class="t" x="19" y="16" style="word-spacing:9px">582 494 996 586 1,656</text><text class="t" x="19" y="23" style="word-spacing:9px">9,316 14,245 28,760 889 38,530</text><text class="t" x="19" y="29.5" style="word-spacing:7px">92,160 148,300 287,600 8,890 638,540</text><text class="t" x="19" y="36.3" style="word-spacing:10px">19.0 8.5 1.2 1 1</text><text class="t" x="19" y="43" style="word-spacing:9px">0.22 0.28 29.24 18.4 28.16</text></g>
<text class="s" x="5.5" y="178.8">1.消費電力量は実測値を年換算  2.削減率はベースライン比</text><text class="s" x="5.5" y="180.8">3.電力単価を仮定して年間削減額を算出  4.CO2排出係数を使用</text><text class="s" x="5.5" y="182.8">5.投資費用はインバータ改修を想定</text><text class="s" x="5.5" y="184.8">6.その他の前提条件は別紙のとおり</text><text class="s" x="5.5" y="188.8">表の試算は過去データに基づく推定であり、実際の削減額は条件により異なります。</text><text class="s" x="5.5" y="190.8">データ追加で更新可能。</text>
<text class="T" x="5.5" y="202.4">試算からの示唆</text>
<text x="7" y="208.1">• AHU-4-02の費用効率が最も高い（約5万円/年削減、回収1.8</text><text x="9" y="212.1">年）。</text><text x="7" y="216.5">• AHU-4-03も有望（約3万円/年、短期的な回収）。</text><text x="7" y="220.8">• AHU-4-04は現状維持（機器の入れ替えが優先）。</text>
<rect x="5.3" y="226.7" width="86.7" height="8.7" rx="4.3" fill="#fff"/><text class="g" x="8.5" y="231.9">AIエージェントに相談</text><circle cx="87.7" cy="231" r="2.9" fill="#000"/><path d="M86.2 231h3M88.2 230l1 1-1 1" stroke="#fff" stroke-width=".35" fill="none"/></g>

<!-- AI step2 right -->
<g class="p" transform="translate(1626,385)"><rect width="97" height="285" rx="2" fill="#565c66" stroke="#8a8f97" stroke-width=".4"/>
<text class="h" x="5.5" y="7.2">AI Assistant</text>
<rect x="5.3" y="11.7" width="86.5" height="6.3" rx="3.1" fill="none" stroke="#c8ccd2" stroke-width=".4"/><rect x="37" y="12.2" width="27" height="5.3" rx="2.6" fill="#fff"/><text class="a" x="10" y="15.6">1. 現在の建物の状況</text><text class="k" x="40" y="15.6">2. 省エネ余地の診断</text><text class="a" x="73" y="15.6">3. 提案内容</text>
<text class="T" x="5.5" y="25.1">Summary</text>
<text x="7" y="30.9">• Fans run during unoccupied periods (nights/weekends). <tspan font-weight="700">Main</tspan></text><text x="9" y="35.2">inefficiency.</text><text x="7" y="39.5" font-weight="700">• 4-03: Highest savings (¥8,793 kWh / ¥567,843 / 1.8 yrs).</text><text x="7" y="43.8" font-weight="700">• 4-02: Strong opportunity (¥5,052 kWh / ¥180,255).</text><text x="7" y="48.1" font-weight="700">• 4-01: Moderate savings.</text><text x="7" y="52.5" font-weight="700">• 4-04: Already efficient.</text>
<path d="M5.3 56.3H92M5.3 138.3H92M5.3 205.3H92" stroke="#858b94" stroke-width=".4"/>
<text class="T" x="5.5" y="64.1">定量試算（年間削減効果）</text>
<text x="5.5" y="69.8">Total reduction: 56,264 kWh, ¥505,543, 38.16 t-CO2_per_year</text>
<g transform="translate(5.3,72.7)"><rect width="86.7" height="46.3" fill="#fff"/><rect width="86.7" height="5.5" fill="#e8ebef"/><rect y="5.5" width="17" height="40.8" fill="#eef1f4"/><path d="M0 5.5H86.7M0 12.2H86.7M0 18.9H86.7M0 25.6H86.7M0 32.3H86.7M0 39H86.7M17 0V46.3M32 0V46.3M46 0V46.3M60 0V46.3M74 0V46.3" stroke="#dcdfe3" stroke-width=".25"/><text class="c" x="2" y="3.4">Metric</text><text class="t" x="18" y="3.4" style="word-spacing:5px">AHU4-01 AHU4-02 AHU4-03 AHU4-04 Total</text><text class="c" x="1.5" y="9.5">Baseline energy (MWh/yr)</text><text class="c" x="1.5" y="16">Fan energy saved (MWh)</text><text class="c" x="1.5" y="23">Annual saving (JPY)</text><text class="c" x="1.5" y="29.5">Annual saving (¥)</text><text class="c" x="1.5" y="36.3">Annual CO2 cut (t)</text><text class="c" x="1.5" y="43">Payback period (yr)</text><text class="t" x="19" y="9.5" style="word-spacing:9px">888 750 1,660 890 3,187</text><text class="t" x="19" y="16" style="word-spacing:9px">582 494 996 586 1,656</text><text class="t" x="19" y="23" style="word-spacing:9px">9,316 14,245 28,760 889 38,530</text><text class="t" x="19" y="29.5" style="word-spacing:7px">92,160 148,300 287,600 8,890 638,540</text><text class="t" x="19" y="36.3" style="word-spacing:10px">19.0 8.5 1.2 1 1</text><text class="t" x="19" y="43" style="word-spacing:9px">0.22 0.28 29.24 18.4 28.16</text></g>
<text class="s" x="5.5" y="122.2">1. Energy measured and annualized  2. Reduction vs. baseline</text><text class="s" x="5.5" y="124.2">3. Assumed electricity tariff  4. CO2 emission factor applied</text><text class="s" x="5.5" y="126.2">5. Investment assumes inverter retrofit</text><text class="s" x="5.5" y="128.2">6. Other assumptions as noted</text><text class="s" x="5.5" y="132.2">Estimates are based on historical data; actual savings vary with conditions, rates and operating hours.</text><text class="s" x="5.5" y="134.2">Can be updated with added data.</text>
<text class="T" x="5.5" y="146.1">AHU Energy Saving Before &amp; After</text>
<g transform="translate(5.3,150)"><rect width="86.7" height="51.7" fill="#fff"/><path d="M9.7 8V46M22 8V46M34 8V46M46.3 8V46M58.3 8V46M70.3 8V46M83 8V46M6 10.3H85M6 16H85M6 22H85M6 28H85M6 34H85M6 40H85M6 45H85" stroke="#eceef1" stroke-width=".2"/><polyline points="9.7,10.3 22,10.3 34,10.7 46.3,11.3 58.3,10.3 70.3,20.3 83,33.7" fill="none" stroke="#6fd0df" stroke-width=".5"/><polyline points="9.7,36.3 22,35.7 34,37.3 46.3,37.7 58.3,37.3 70.3,41.3 83,43.3" fill="none" stroke="#f5cd9a" stroke-width=".5"/><rect x="71" y="2.6" width="3" height="1.6" fill="#2ba8e0"/><rect x="71" y="4.8" width="3" height="1.6" fill="#f3b040"/><text class="c" x="5" y="4">Energy (kWh)</text><text class="c" x="75" y="4">Before</text><text class="c" x="75" y="6.2">After</text></g>
<text class="T" x="5.5" y="213.1">Key Insights</text>
<text x="7" y="218.8">• AHU-4-03 is the top priority.</text><text x="9" y="223.1">Delivers the largest reduction (≈¥870,000/year) and fastest</text><text x="9" y="227.5">payback (1.8 years).</text><text x="7" y="231.5">• AHU-4-02 is also promising.</text><text x="9" y="235.8">Approximately ¥180,000/year savings with realistic payback.</text><text x="7" y="239.8">• AHU-4-04 requires no action.</text><text x="9" y="244.1">Negative savings indicate current operation is already efficient or</text><text x="9" y="248.5">the data show lower baseline consumption than the scenario.</text><text x="7" y="252.8">• These findings are consistent with all-time period data, indicating</text><text x="9" y="256.8">the inefficiencies are not temporary or due to short-term</text><text x="9" y="261.1">anomalies.</text>
<rect x="5.3" y="271" width="86.7" height="8.7" rx="4.3" fill="#fff"/><text class="g" x="8.5" y="276.2">AIエージェントに相談</text><circle cx="87.7" cy="275.3" r="2.9" fill="#000"/><path d="M86.2 275.3h3M88.2 274.3l1 1-1 1" stroke="#fff" stroke-width=".35" fill="none"/></g>

<!-- step3 -->
<g class="p" transform="translate(1517,702)"><rect width="97" height="196.5" rx="2" fill="#565c66" stroke="#8a8f97" stroke-width=".4"/>
<text class="h" x="5.5" y="7.5">AI Assistant</text>
<rect x="5.3" y="12" width="86.5" height="6.3" rx="3.1" fill="none" stroke="#c8ccd2" stroke-width=".4"/><rect x="68" y="12.5" width="23.3" height="5.3" rx="2.6" fill="#fff"/><text class="a" x="10" y="15.9">1. 現在の建物の状況</text><text class="a" x="40" y="15.9">2. 省エネ余地の診断</text><text class="k" x="73" y="15.9">3. 提案内容</text>
<text class="T" x="5.5" y="25.4">提案内容（実行計画）</text>
<text x="5.5" y="30.8">段階導入でリスクを最小化しつつ、快適性を実務に検証します。</text>
<path d="M5.3 35.3H92M5.3 86.7H92M5.3 138H92" stroke="#858b94" stroke-width=".4"/>
<text class="T" x="5.5" y="42.4">フェーズ1：低リスク実証（1週間）</text>
<text x="7" y="48.1">• 制御内容: 平日22:00〜翌7:00＋休日全日に、対象AHU（本</text><text x="9" y="52.5">例: AHU-4-02）の給気・還気ファンを40%固定。</text><text x="7" y="56.8">• 目的: 実測データによる効果検証と、快適性（温湿度・CO2）</text><text x="9" y="61.1">および苦情発生の確認。</text><text x="7" y="65.5">• KPI:</text><text x="10" y="69.8">− エネルギー消費（kWh）削減率</text><text x="10" y="73.8">− CO2濃度が許容範囲（例: 800ppm未満）に収まる割合</text><text x="10" y="77.8">− 苦情件数（VOC回数）</text><text x="10" y="82.1">− ファン速度実績（%）</text>
<text class="T" x="5.5" y="93.8">フェーズ2：CO2連動制御の導入</text>
<text x="7" y="99.5">• 制御内容: CO2センサー値に連動し、ファン回転数を自動調節</text><text x="9" y="103.8">し。</text><text x="7" y="108.1">• 設定例:</text><text x="10" y="112.1">− CO2設定値: 800 ppm</text><text x="10" y="116.5">− 最小風量（ファン速度）: 40%（無人時の最低換気）</text><text x="10" y="120.8">− 最大風量（ファン速度）: 90%</text><text x="10" y="125.1">− ゆるやか立ち下げ（Ramp）: 300秒（急変回避）</text><text x="7" y="129.5">• 目的: 在室人数に応じた最適換気で、快適性を維持しつつ消費量</text><text x="9" y="133.8">小化。</text>
<text class="T" x="5.5" y="145.4">フェーズ3：展開とガバナンス</text>
<text x="7" y="151.1">• 横展開: AHU-4-03の成功モデルをAHU-4-01、AHU-4-04へ適用</text><text x="9" y="155.5">展開。</text><text x="7" y="159.8">• 効果の監視: 週次で「ファン張り付き率」「ファン速度の変動係</text><text x="9" y="164.1">数」を定点観測し、しきい値（例: 張り付き率＞5%）超過時は自</text><text x="9" y="168.5">動アラート。</text><text x="7" y="172.5">• 再チューニング: 6〜12か月ごとに快適性と実績を評価し、CO2</text><text x="9" y="176.8">設定値・最小風量を見直して再調整。</text>
<rect x="95" y="64" width=".8" height="114" fill="#8e939b"/>
<rect x="5.3" y="182.3" width="86.7" height="8.7" rx="4.3" fill="#fff"/><text class="g" x="8.5" y="187.5">AIエージェントに相談</text><circle cx="87.7" cy="186.6" r="2.9" fill="#000"/><path d="M86.2 186.6h3M88.2 185.6l1 1-1 1" stroke="#fff" stroke-width=".35" fill="none"/></g>

<!-- AI step3 right -->
<g class="p" transform="translate(1628,702)"><rect width="97" height="293" rx="2" fill="#565c66" stroke="#8a8f97" stroke-width=".4"/>
<text class="h" x="5.5" y="7.5">AI Assistant</text>
<rect x="5.3" y="12" width="86.5" height="6.3" rx="3.1" fill="none" stroke="#c8ccd2" stroke-width=".4"/><rect x="68" y="12.5" width="23.3" height="5.3" rx="2.6" fill="#fff"/><text class="a" x="10" y="15.9">1. 現在の建物の状況</text><text class="a" x="40" y="15.9">2. 省エネ余地の診断</text><text class="k" x="73" y="15.9">3. 提案内容</text>
<text class="T" x="5.5" y="25.4">Action Plan</text>
<text x="5.5" y="30.8">This phased implementation minimizes risk while securing energy</text><text x="5.5" y="35.1">savings early.</text>
<path d="M5.3 39.7H92M5.3 122H92M5.3 195.3H92" stroke="#858b94" stroke-width=".4"/>
<text class="T" x="5.5" y="47.1">Phase 1: Low-Risk Trial (1 Week)</text>
<text class="b" x="5.5" y="54.2">Control:</text>
<text x="7" y="59.5">• Weekdays 22:00–07:00 and all day on weekends/holidays</text><text x="7" y="63.8">• Set supply and return fans to 40% for the target AHU</text><text x="9" y="68.1">(recommended: AHU-4-03)</text>
<text class="b" x="5.5" y="74.2">Purpose:</text>
<text x="7" y="80.1">• Validate savings using actual energy data</text><text x="7" y="84.5">• Confirm comfort (temperature, humidity, CO₂)</text><text x="7" y="88.8">• Confirm that no complaints arise during reduced ventilation</text>
<text class="b" x="5.5" y="94.9">KPIs:</text>
<text x="7" y="100.5">• Energy consumption reduction (kWh)</text><text x="7" y="104.8">• CO₂ remains within acceptable comfort range</text><text x="9" y="109.1">(e.g., below 800 ppm)</text><text x="7" y="113.5">• Complaint count (target: zero)</text><text x="7" y="117.8">• Fan speed performance (%)</text>
<text class="T" x="5.5" y="129.4">Phase 2: Introduce CO₂-Linked Control</text>
<text class="b" x="5.5" y="135.9">Control:</text>
<text x="5.5" y="141.8">Automatically adjust fan speed based on CO₂ sensor readings.</text>
<text class="b" x="5.5" y="148.2">Recommended Settings:</text>
<text x="7" y="153.8">• CO₂ setpoint: 800 ppm</text><text x="7" y="158.1">• Minimum ventilation (fan speed): 40% (minimum when</text><text x="9" y="162.5">unoccupied)</text><text x="7" y="166.8">• Maximum ventilation (fan speed): 90%</text><text x="7" y="171.1">• Ramp-up / Ramp-down: 300 seconds (to avoid sudden</text><text x="9" y="175.1">fluctuations)</text>
<text class="b" x="5.5" y="180.9">Purpose:</text>
<text x="5.5" y="186.8">Optimize ventilation based on real-time occupancy to maintain</text><text x="5.5" y="191.1">comfort while minimizing energy use.</text>
<text class="T" x="5.5" y="203.1">Phase 3: Rollout and Governance</text>
<text class="b" x="5.5" y="209.6">Rollout:</text>
<text x="5.5" y="215.1">Expand the successful AHU-4-03 model sequentially to AHU-4-02</text><text x="5.5" y="219.5">and AHU-4-01.</text>
<text class="b" x="5.5" y="226.2">Ongoing Monitoring:</text>
<text x="5.5" y="231.5">Track each week:</text><text x="7" y="235.8">• Fan sticking rate (e.g., ≥5% triggers an alert)</text><text x="7" y="240.1">• Fan speed variability (coefficient of variation)</text><text x="9" y="244.5">If thresholds are exceeded, generate automatic alerts</text>
<text class="b" x="5.5" y="250.6">Re-tuning:</text>
<text x="5.5" y="256.1">Every 6–12 months, evaluate comfort and performance, then adjust:</text><text x="7" y="260.5">• CO₂ setpoint</text><text x="7" y="264.8">• Minimum fan speed</text><text x="7" y="269.1">• Maximum fan speed</text>
<rect x="95" y="161" width=".8" height="113" fill="#8e939b"/>
<rect x="5.3" y="279" width="86.7" height="8.7" rx="4.3" fill="#fff"/><text class="g" x="8.5" y="284.2">AIエージェントに相談</text><circle cx="87.7" cy="283.3" r="2.9" fill="#000"/><path d="M86.2 283.3h3M88.2 282.3l1 1-1 1" stroke="#fff" stroke-width=".35" fill="none"/></g>
</svg>
</body></html>
